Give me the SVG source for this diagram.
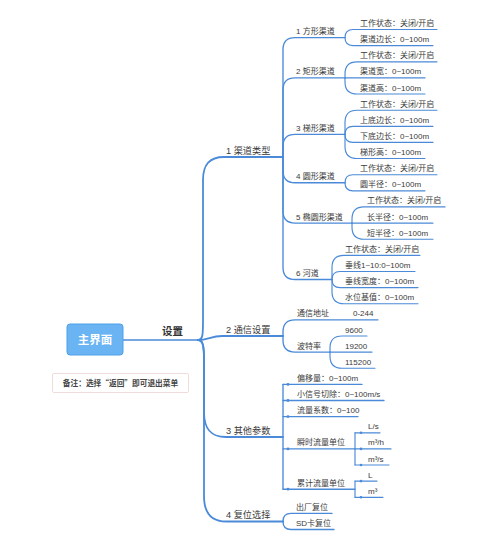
<svg xmlns="http://www.w3.org/2000/svg" width="500" height="536" viewBox="0 0 500 536">
<style>
text{font-family:"Liberation Sans","Noto Sans CJK SC",sans-serif;fill:#3a3a3a}
.l1{font-size:9.2px}
.t{font-size:8px}
.ln{fill:none;stroke:#4a8ad8;stroke-width:1.15;stroke-linecap:round}
.ln1{fill:none;stroke:#4a8ad8;stroke-width:1.8;stroke-linecap:round}
.ln2{fill:none;stroke:#4a8ad8;stroke-width:1.35;stroke-linecap:round}
.dot{fill:#4a8ad8}
</style>
<rect width="500" height="536" fill="#ffffff"/>

<g id="connectors">
  <!-- root to hub -->
  <path class="ln2" d="M123,340 L198,340"/>
  <!-- level 1 -->
  <path class="ln1" d="M198,340 C203,340 203,334 203,320 L203,180 C203,165 209,157 224,157 L283,157"/>
  <path class="ln1" d="M198,340 C208,340 211,336 222,336 L283,336"/>
  <path class="ln1" d="M198,340 C203,340 204,346 204,360 L204,412 C204,428 210,437 226,437 L283,437"/>
  <path class="ln1" d="M198,340 C203,340 204,346 204,360 L204,496 C204,512 210,521.5 226,521.5 L283,521.5"/>
  <!-- level 2 of 渠道类型 -->
  <path class="ln2" d="M283,157 L283,49.6 Q283,37.6 295,37.6 L345,37.6"/>
  <path class="ln2" d="M283,157 L283,89.9 Q283,77.9 295,77.9 L345,77.9"/>
  <path class="ln2" d="M283,157 L283,146.3 Q283,134.3 295,134.3 L345,134.3"/>
  <path class="ln2" d="M283,157 L283,170.7 Q283,182.7 295,182.7 L345,182.7"/>
  <path class="ln2" d="M283,157 L283,211.1 Q283,223.1 295,223.1 L352,223.1"/>
  <path class="ln2" d="M283,157 L283,267.5 Q283,279.5 295,279.5 L332,279.5"/>
  <!-- G1 -->
  <path class="ln" d="M345,37.6 Q345,29.5 353,29.5 L437,29.5"/>
  <path class="ln" d="M345,37.6 Q345,45.6 353,45.6 L433,45.6"/>
  <!-- G2 -->
  <path class="ln" d="M345,77.9 L345,73.8 Q345,61.8 357,61.8 L437,61.8"/>
  <path class="ln" d="M345,77.9 L425,77.9"/>
  <path class="ln" d="M345,77.9 L345,82 Q345,94 357,94 L425,94"/>
  <!-- G3 -->
  <path class="ln" d="M345,134.3 L345,122.2 Q345,110.2 357,110.2 L437,110.2"/>
  <path class="ln" d="M345,134.3 Q345,126.3 353,126.3 L433,126.3"/>
  <path class="ln" d="M345,134.3 Q345,142.4 353,142.4 L433,142.4"/>
  <path class="ln" d="M345,134.3 L345,146.5 Q345,158.5 357,158.5 L425,158.5"/>
  <!-- G4 -->
  <path class="ln" d="M345,182.7 Q345,174.7 353,174.7 L437,174.7"/>
  <path class="ln" d="M345,182.7 Q345,190.8 353,190.8 L425,190.8"/>
  <!-- G5 -->
  <path class="ln" d="M352,223.1 L352,218.9 Q352,206.9 364,206.9 L445,206.9"/>
  <path class="ln" d="M352,223.1 L433,223.1"/>
  <path class="ln" d="M352,223.1 L352,227.2 Q352,239.2 364,239.2 L433,239.2"/>
  <!-- G6 -->
  <path class="ln" d="M332,279.5 L332,267.3 Q332,255.3 344,255.3 L420,255.3"/>
  <path class="ln" d="M332,279.5 Q332,271.5 340,271.5 L415,271.5"/>
  <path class="ln" d="M332,279.5 Q332,287.6 340,287.6 L418,287.6"/>
  <path class="ln" d="M332,279.5 L332,291.7 Q332,303.7 344,303.7 L418,303.7"/>
  <!-- 通信设置 -->
  <path class="ln2" d="M283,336 L283,331.8 Q283,319.8 295,319.8 L378,319.8"/>
  <path class="ln2" d="M283,336 L283,340.1 Q283,352.1 295,352.1 L330,352.1"/>
  <path class="ln" d="M330,352.1 L330,348 Q330,336 342,336 L367,336"/>
  <path class="ln" d="M330,352.1 L372,352.1"/>
  <path class="ln" d="M330,352.1 L330,356.2 Q330,368.2 342,368.2 L375,368.2"/>
  <!-- 其他参数 (elbow) -->
  <path class="ln2" d="M283,384.4 L283,489.2"/>
  <path class="ln2" d="M283,384.4 L362,384.4"/>
  <path class="ln2" d="M283,400.5 L384,400.5"/>
  <path class="ln2" d="M283,416.6 L358,416.6"/>
  <path class="ln2" d="M283,448.9 L355,448.9"/>
  <path class="ln2" d="M283,489.2 L355,489.2"/>
  <path class="ln" d="M355,432.8 L355,465"/>
  <path class="ln" d="M355,432.8 L380,432.8"/>
  <path class="ln" d="M355,448.9 L391,448.9"/>
  <path class="ln" d="M355,465 L389,465"/>
  <path class="ln" d="M355,481.1 L355,497.3"/>
  <path class="ln" d="M355,481.1 L377,481.1"/>
  <path class="ln" d="M355,497.3 L383,497.3"/>
  <circle class="dot" cx="288" cy="384.4" r="1.4"/>
  <circle class="dot" cx="288" cy="400.5" r="1.4"/>
  <circle class="dot" cx="288" cy="416.6" r="1.4"/>
  <circle class="dot" cx="288" cy="448.9" r="1.4"/>
  <circle class="dot" cx="288" cy="489.2" r="1.4"/>
  <circle class="dot" cx="361" cy="432.8" r="1.3"/>
  <circle class="dot" cx="361" cy="448.9" r="1.3"/>
  <circle class="dot" cx="361" cy="465" r="1.3"/>
  <circle class="dot" cx="361" cy="481.1" r="1.3"/>
  <circle class="dot" cx="361" cy="497.3" r="1.3"/>
  <!-- 复位选择 -->
  <path class="ln2" d="M283,521.5 Q283,513.4 291,513.4 L332,513.4"/>
  <path class="ln2" d="M283,521.5 Q283,529.5 291,529.5 L334,529.5"/>
</g>

<g id="root">
  <rect x="67" y="324" width="56" height="31" rx="3" fill="#6ab4f3" stroke="#4d9fe8" stroke-width="1"/>
  <text x="95" y="344" text-anchor="middle" style="font-size:11.5px;font-weight:bold;fill:#ffffff">主界面</text>
</g>
<g id="label-settings"><text x="162" y="334.5" style="font-size:10.5px;font-weight:bold;fill:#333">设置</text></g>
<g id="note">
  <rect x="52.5" y="373.5" width="136" height="19" rx="1.5" fill="#ffffff" stroke="#f0dcdc" stroke-width="1"/>
  <text x="120.5" y="386" text-anchor="middle" style="font-family:'Noto Sans CJK SC',sans-serif;font-size:7.7px;font-weight:bold;fill:#444">备注：选择“返回”即可退出菜单</text>
</g>

<g id="n-1"><text class="l1" x="226" y="153.5">1 渠道类型</text></g>
<g id="n-2"><text class="l1" x="226" y="332.5">2 通信设置</text></g>
<g id="n-3"><text class="l1" x="226" y="433.5">3 其他参数</text></g>
<g id="n-4"><text class="l1" x="226" y="518">4 复位选择</text></g>

<g id="n-1-1"><text class="t" x="296" y="34.1">1 方形渠道</text></g>
<g id="n-1-2"><text class="t" x="296" y="74.4">2 矩形渠道</text></g>
<g id="n-1-3"><text class="t" x="296" y="130.8">3 梯形渠道</text></g>
<g id="n-1-4"><text class="t" x="296" y="179.2">4 圆形渠道</text></g>
<g id="n-1-5"><text class="t" x="296" y="219.6">5 椭圆形渠道</text></g>
<g id="n-1-6"><text class="t" x="296" y="276">6 河道</text></g>

<g id="leaf-0"><text class="t" x="360" y="26">工作状态：关闭/开启</text></g>
<g id="leaf-1"><text class="t" x="360" y="42.1">渠道边长：0~100m</text></g>
<g id="leaf-2"><text class="t" x="360" y="58.3">工作状态：关闭/开启</text></g>
<g id="leaf-3"><text class="t" x="360" y="74.4">渠道宽：0~100m</text></g>
<g id="leaf-4"><text class="t" x="360" y="90.5">渠道高：0~100m</text></g>
<g id="leaf-5"><text class="t" x="360" y="106.7">工作状态：关闭/开启</text></g>
<g id="leaf-6"><text class="t" x="360" y="122.8">上底边长：0~100m</text></g>
<g id="leaf-7"><text class="t" x="360" y="138.9">下底边长：0~100m</text></g>
<g id="leaf-8"><text class="t" x="360" y="155">梯形高：0~100m</text></g>
<g id="leaf-9"><text class="t" x="360" y="171.2">工作状态：关闭/开启</text></g>
<g id="leaf-10"><text class="t" x="360" y="187.3">圆半径：0~100m</text></g>
<g id="leaf-11"><text class="t" x="367" y="203.4">工作状态：关闭/开启</text></g>
<g id="leaf-12"><text class="t" x="367" y="219.6">长半径：0~100m</text></g>
<g id="leaf-13"><text class="t" x="367" y="235.7">短半径：0~100m</text></g>
<g id="leaf-14"><text class="t" x="345" y="251.8">工作状态：关闭/开启</text></g>
<g id="leaf-15"><text class="t" x="345" y="268">垂线1~10:0~100m</text></g>
<g id="leaf-16"><text class="t" x="345" y="284.1">垂线宽度：0~100m</text></g>
<g id="leaf-17"><text class="t" x="345" y="300.2">水位基值：0~100m</text></g>

<g id="n-2-1"><text class="t" x="297" y="316.3">通信地址</text><text class="t" x="353" y="316.3">0-244</text></g>
<g id="n-2-2"><text class="t" x="297" y="348.6">波特率</text></g>
<g id="b-9600"><text class="t" x="345" y="332.5">9600</text></g>
<g id="b-19200"><text class="t" x="345" y="348.6">19200</text></g>
<g id="b-115200"><text class="t" x="345" y="364.7">115200</text></g>

<g id="n-3-1"><text class="t" x="297" y="380.9">偏移量：0~100m</text></g>
<g id="n-3-2"><text class="t" x="297" y="397">小信号切除：0~100m/s</text></g>
<g id="n-3-3"><text class="t" x="297" y="413.1">流量系数：0~100</text></g>
<g id="n-3-4"><text class="t" x="297" y="445.4">瞬时流量单位</text></g>
<g id="u-ls"><text class="t" x="368" y="429.3">L/s</text></g>
<g id="u-m3h"><text class="t" x="368" y="445.4">m³/h</text></g>
<g id="u-m3s"><text class="t" x="368" y="461.5">m³/s</text></g>
<g id="n-3-5"><text class="t" x="297" y="485.7">累计流量单位</text></g>
<g id="u-l"><text class="t" x="368" y="477.6">L</text></g>
<g id="u-m3"><text class="t" x="368" y="493.8">m³</text></g>

<g id="n-4-1"><text class="t" x="296" y="509.9">出厂复位</text></g>
<g id="n-4-2"><text class="t" x="296" y="526">SD卡复位</text></g>
</svg>
